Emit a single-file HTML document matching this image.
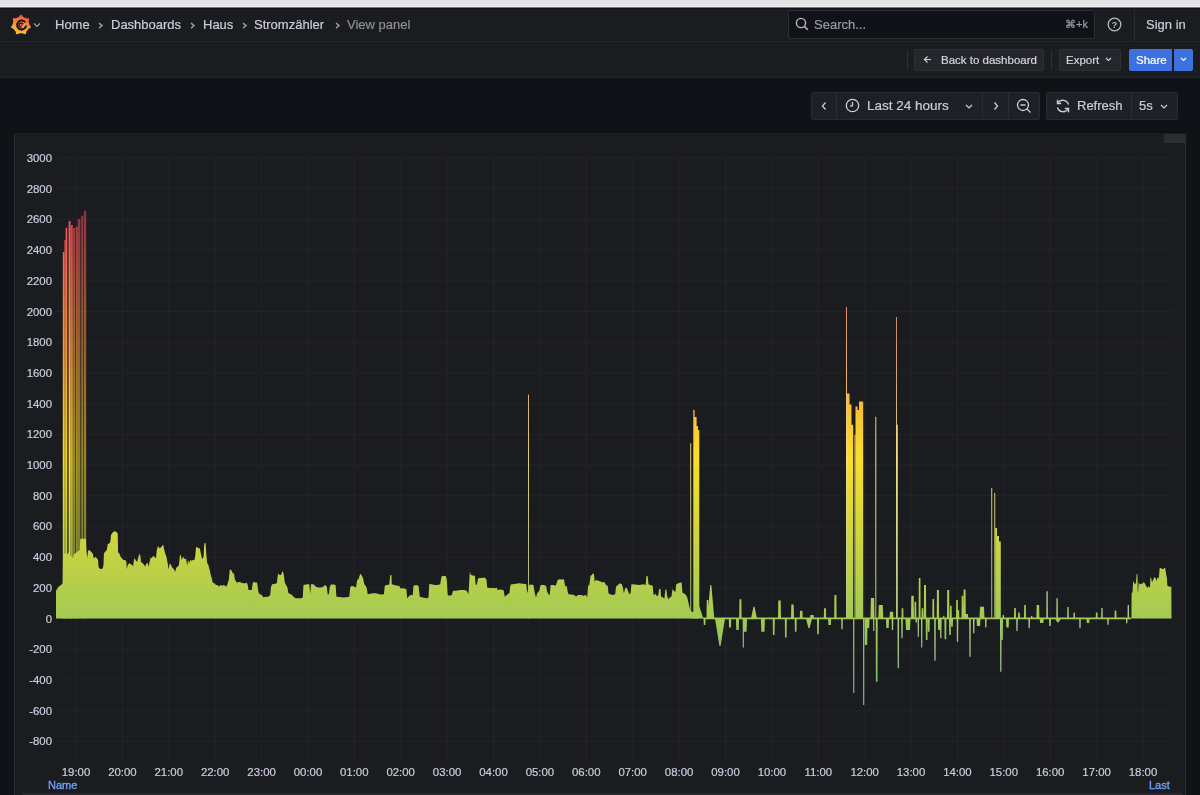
<!DOCTYPE html>
<html><head><meta charset="utf-8"><title>View panel</title>
<style>
*{box-sizing:border-box;margin:0;padding:0}
html,body{width:1200px;height:795px;overflow:hidden;background:#111217;font-family:"Liberation Sans",Arial,sans-serif;color:#ccccdc}
.abs{position:absolute}
#root div{-webkit-text-stroke:0.2px currentColor}
#strip{left:0;top:0;width:1200px;height:9px;background:linear-gradient(#dfdfdf 0,#e6e6e6 1px,#e6e6e6 6px,#f0f0f2 6px,#f0f0f2 7px,#77777a 7px,#77777a 8px,#121316 8px)}
#nav{left:0;top:9px;width:1200px;height:33px;background:#1b1c20;border-bottom:1px solid #25262a}
#tool{left:0;top:42px;width:1200px;height:36px;background:#1b1c20;border-bottom:1px solid #232428}
.crumb{font-size:13px;color:#ccccdc;top:17px;line-height:15px;white-space:nowrap;-webkit-text-stroke:0.25px currentColor}
.sep{color:#8e8e99}
.btn{background:#26272c;border:1px solid #2f3036;border-radius:2px;font-size:11.5px;color:#d4d4de;line-height:20px;white-space:nowrap}
.vsep{width:1px;background:#2e3036}
.tc{background:#1f2025;border:1px solid #2a2b31;border-radius:2px;height:28px;top:92px;font-size:13px;color:#ccccdc;line-height:26px;white-space:nowrap}
#panel{left:14px;top:133px;width:1172px;height:670px;background:#1b1c20;border:1px solid #2b2c31;border-top-color:#1b1c20;border-radius:2px}
.ax{font-family:"Liberation Sans",Arial,sans-serif;font-size:11.4px;fill:#ccccdc;stroke:#ccccdc;stroke-width:0.2px}
.leg{font-size:11px;color:#6e9fff;top:779px;line-height:12px;-webkit-text-stroke:0.35px #6e9fff !important}
</style></head>
<body>
<div id="root" style="position:absolute;left:0;top:0;width:1200px;height:795px;overflow:hidden;will-change:transform">
<div id="strip" class="abs"></div>
<div id="nav" class="abs"></div>
<div id="tool" class="abs"></div>

<!-- logo -->
<svg class="abs" style="left:8.5px;top:12.5px" width="24" height="24" viewBox="0 0 24 24">
  <defs><linearGradient id="lg" x1="0" y1="1" x2="0.3" y2="0"><stop offset="0" stop-color="#fbd33c"/><stop offset="0.45" stop-color="#f7a33a"/><stop offset="1" stop-color="#ef5b3a"/></linearGradient></defs>
  <path fill="url(#lg)" d="M20.60 12.00 L20.76 12.28 L21.03 12.57 L21.33 12.88 L21.61 13.21 L21.82 13.56 L21.95 13.90 L21.95 14.22 L21.84 14.53 L21.61 14.79 L21.29 15.02 L20.90 15.20 L20.49 15.36 L20.11 15.51 L19.80 15.67 L19.61 15.88 L19.41 16.07 L19.21 16.26 L19.02 16.45 L18.83 16.64 L18.65 16.83 L18.48 17.03 L18.32 17.23 L18.17 17.44 L18.02 17.66 L17.88 17.88 L17.74 18.11 L17.60 18.35 L17.45 18.59 L17.30 18.83 L17.22 19.18 L17.16 19.59 L17.09 20.03 L16.99 20.44 L16.83 20.79 L16.62 21.06 L16.34 21.22 L16.01 21.27 L15.65 21.22 L15.27 21.07 L14.88 20.86 L14.51 20.64 L14.17 20.46 L13.87 20.38 L13.59 20.35 L13.32 20.31 L13.05 20.28 L12.78 20.25 L12.52 20.22 L12.26 20.21 L12.00 20.20 L11.74 20.21 L11.48 20.22 L11.22 20.25 L10.95 20.28 L10.68 20.31 L10.41 20.35 L10.13 20.38 L9.83 20.46 L9.49 20.64 L9.12 20.86 L8.73 21.07 L8.35 21.22 L7.99 21.27 L7.66 21.22 L7.38 21.06 L7.17 20.79 L7.01 20.44 L6.91 20.03 L6.84 19.59 L6.78 19.18 L6.70 18.83 L6.55 18.59 L6.40 18.35 L6.26 18.11 L6.12 17.88 L5.98 17.66 L5.83 17.44 L5.68 17.23 L5.52 17.03 L5.35 16.83 L5.17 16.64 L4.98 16.45 L4.79 16.26 L4.59 16.07 L4.39 15.88 L4.20 15.67 L3.89 15.51 L3.51 15.36 L3.10 15.20 L2.71 15.02 L2.39 14.79 L2.16 14.53 L2.05 14.22 L2.05 13.90 L2.18 13.56 L2.39 13.21 L2.67 12.88 L2.97 12.57 L3.24 12.28 L3.40 12.00 L3.49 11.73 L3.59 11.47 L3.68 11.21 L3.77 10.96 L3.86 10.71 L3.93 10.46 L4.00 10.21 L4.05 9.96 L4.09 9.70 L4.13 9.44 L4.16 9.18 L4.18 8.91 L4.21 8.63 L4.24 8.35 L4.25 8.05 L4.15 7.68 L4.02 7.28 L3.90 6.86 L3.83 6.45 L3.84 6.07 L3.95 5.75 L4.16 5.51 L4.45 5.35 L4.83 5.26 L5.25 5.25 L5.68 5.27 L6.10 5.31 L6.47 5.32 L6.75 5.23 L7.02 5.14 L7.28 5.06 L7.54 4.97 L7.79 4.88 L8.04 4.79 L8.28 4.69 L8.51 4.58 L8.74 4.46 L8.96 4.33 L9.19 4.19 L9.42 4.04 L9.64 3.89 L9.88 3.74 L10.12 3.60 L10.35 3.36 L10.58 3.02 L10.82 2.66 L11.08 2.32 L11.37 2.04 L11.68 1.86 L12.00 1.80 L12.32 1.86 L12.63 2.04 L12.92 2.32 L13.18 2.66 L13.42 3.02 L13.65 3.36 L13.88 3.60 L14.12 3.74 L14.36 3.89 L14.58 4.04 L14.81 4.19 L15.04 4.33 L15.26 4.46 L15.49 4.58 L15.72 4.69 L15.96 4.79 L16.21 4.88 L16.46 4.97 L16.72 5.06 L16.98 5.14 L17.25 5.23 L17.53 5.32 L17.90 5.31 L18.32 5.27 L18.75 5.25 L19.17 5.26 L19.55 5.35 L19.84 5.51 L20.05 5.75 L20.16 6.07 L20.17 6.45 L20.10 6.86 L19.98 7.28 L19.85 7.68 L19.75 8.05 L19.76 8.35 L19.79 8.63 L19.82 8.91 L19.84 9.18 L19.87 9.44 L19.91 9.70 L19.95 9.96 L20.00 10.21 L20.07 10.46 L20.14 10.71 L20.23 10.96 L20.32 11.21 L20.41 11.47 L20.51 11.73Z"/>
  <circle cx="12.6" cy="12.2" r="3.6" fill="#f3966a"/>
  <path d="M16.2 9.3A4.5 4.5 0 1 0 17.1 12.6" fill="none" stroke="#241210" stroke-width="2.1"/>
  <path d="M14.2 11.4A2.1 2.1 0 1 0 12.6 14.3" fill="none" stroke="#2a1612" stroke-width="1.4"/>
  <circle cx="12.6" cy="12.3" r="0.9" fill="#3a2a25"/>
</svg>
<svg class="abs" style="left:33px;top:22px" width="8" height="6" viewBox="0 0 8 6"><path d="M1 1.5l3 3 3-3" fill="none" stroke="#9fa0aa" stroke-width="1.2"/></svg>

<div class="abs crumb" style="left:55px">Home</div>
<svg class="abs" style="left:97px;top:20px" width="7" height="10" viewBox="0 0 7 10"><path d="M2 3L5 5.6L2 8.2" fill="none" stroke="#9a9ba5" stroke-width="1.5"/></svg>
<div class="abs crumb" style="left:111px">Dashboards</div>
<svg class="abs" style="left:189px;top:20px" width="7" height="10" viewBox="0 0 7 10"><path d="M2 3L5 5.6L2 8.2" fill="none" stroke="#9a9ba5" stroke-width="1.5"/></svg>
<div class="abs crumb" style="left:203px">Haus</div>
<svg class="abs" style="left:241px;top:20px" width="7" height="10" viewBox="0 0 7 10"><path d="M2 3L5 5.6L2 8.2" fill="none" stroke="#9a9ba5" stroke-width="1.5"/></svg>
<div class="abs crumb" style="left:254px">Stromzähler</div>
<svg class="abs" style="left:334px;top:20px" width="7" height="10" viewBox="0 0 7 10"><path d="M2 3L5 5.6L2 8.2" fill="none" stroke="#9a9ba5" stroke-width="1.5"/></svg>
<div class="abs crumb" style="left:347px;color:#8e8e99">View panel</div>

<!-- search -->
<div class="abs" style="left:788px;top:10px;width:307px;height:29px;background:#111217;border:1px solid #2c2e34;border-radius:2px"></div>
<svg class="abs" style="left:795px;top:17px" width="14" height="14" viewBox="0 0 14 14"><circle cx="6" cy="6" r="4.6" fill="none" stroke="#b8b9c4" stroke-width="1.4"/><path d="M9.4 9.4l3.4 3.4" stroke="#b8b9c4" stroke-width="1.5"/></svg>
<div class="abs" style="left:814px;top:17px;font-size:13px;line-height:15px;color:#9a9ba6">Search...</div>
<div class="abs" style="left:1065px;top:18px;font-size:11px;line-height:13px;color:#9a9ba6">&#8984;+k</div>
<svg class="abs" style="left:1107px;top:17px" width="15" height="15" viewBox="0 0 15 15"><circle cx="7.5" cy="7.5" r="6.3" fill="none" stroke="#b8b9c4" stroke-width="1.3"/><text x="7.5" y="11" text-anchor="middle" font-size="9" font-weight="bold" fill="#b8b9c4" font-family="Liberation Sans">?</text></svg>
<div class="abs vsep" style="left:1134px;top:9px;height:32px;background:#292a2f"></div>
<div class="abs crumb" style="left:1146px;top:17px">Sign in</div>

<!-- toolbar -->
<div class="abs vsep" style="left:907px;top:50px;height:20px"></div>
<div class="abs btn" style="left:914px;top:49px;width:130px;height:22px;padding-left:26px">Back to dashboard</div>
<svg class="abs" style="left:923px;top:55px" width="9" height="9" viewBox="0 0 9 9"><path d="M8 4.5H1.5M4.5 1.5l-3 3 3 3" fill="none" stroke="#ccccdc" stroke-width="1.2"/></svg>
<div class="abs vsep" style="left:1051px;top:50px;height:20px"></div>
<div class="abs btn" style="left:1059px;top:49px;width:62px;height:22px;padding-left:6px">Export</div>
<svg class="abs" style="left:1105px;top:57px" width="7" height="5" viewBox="0 0 7 5"><path d="M1 1l2.5 2.5L6 1" fill="none" stroke="#ccccdc" stroke-width="1.2"/></svg>
<div class="abs btn" style="left:1129px;top:49px;width:43px;height:22px;background:#3e71e0;border-color:#3e71e0;color:#fff;padding-left:6px;border-radius:2px 0 0 2px">Share</div>
<div class="abs btn" style="left:1174px;top:49px;width:19px;height:22px;background:#3e71e0;border-color:#3e71e0;border-radius:0 2px 2px 0"></div>
<svg class="abs" style="left:1180px;top:57px" width="7" height="5" viewBox="0 0 7 5"><path d="M1 1l2.5 2.5L6 1" fill="none" stroke="#fff" stroke-width="1.2"/></svg>

<!-- time controls -->
<div class="abs tc" style="left:811px;width:229px"></div>
<div class="abs vsep" style="left:836px;top:92px;height:28px;background:#2b2c32"></div>
<div class="abs vsep" style="left:982px;top:92px;height:28px;background:#2b2c32"></div>
<div class="abs vsep" style="left:1008px;top:92px;height:28px;background:#2b2c32"></div>
<svg class="abs" style="left:820px;top:101px" width="8" height="10" viewBox="0 0 8 10"><path d="M5.5 1.5L2.5 5l3 3.5" fill="none" stroke="#ccccdc" stroke-width="1.3"/></svg>
<svg class="abs" style="left:845px;top:98px" width="15" height="15" viewBox="0 0 15 15"><circle cx="7.5" cy="7.5" r="6.2" fill="none" stroke="#ccccdc" stroke-width="1.3"/><path d="M7.5 4v3.8H5" fill="none" stroke="#ccccdc" stroke-width="1.3"/></svg>
<div class="abs" style="left:867px;top:98px;font-size:13.5px;line-height:15px;color:#ccccdc">Last 24 hours</div>
<svg class="abs" style="left:965px;top:104px" width="8" height="5" viewBox="0 0 8 5"><path d="M1 1l3 3 3-3" fill="none" stroke="#ccccdc" stroke-width="1.2"/></svg>
<svg class="abs" style="left:992px;top:101px" width="8" height="10" viewBox="0 0 8 10"><path d="M2.5 1.5L5.5 5l-3 3.5" fill="none" stroke="#ccccdc" stroke-width="1.3"/></svg>
<svg class="abs" style="left:1016px;top:98px" width="16" height="16" viewBox="0 0 16 16"><circle cx="7" cy="7" r="5.5" fill="none" stroke="#ccccdc" stroke-width="1.3"/><path d="M4.5 7h5M11 11l3.5 3.5" fill="none" stroke="#ccccdc" stroke-width="1.3"/></svg>

<div class="abs tc" style="left:1046px;width:132px"></div>
<div class="abs vsep" style="left:1131px;top:92px;height:28px;background:#2b2c32"></div>
<svg class="abs" style="left:1055px;top:98px" width="16" height="16" viewBox="0 0 16 16"><path d="M13.5 6.5A5.8 5.8 0 0 0 3 5M2.5 9.5A5.8 5.8 0 0 0 13 11" fill="none" stroke="#ccccdc" stroke-width="1.4"/><path d="M2.5 1.8V5.5H6.2M13.5 14.2V10.5H9.8" fill="none" stroke="#ccccdc" stroke-width="1.4"/></svg>
<div class="abs" style="left:1077px;top:98px;font-size:13px;line-height:15px;color:#ccccdc">Refresh</div>
<div class="abs" style="left:1139px;top:98px;font-size:13px;line-height:15px;color:#ccccdc">5s</div>
<svg class="abs" style="left:1160px;top:104px" width="8" height="5" viewBox="0 0 8 5"><path d="M1 1l3 3 3-3" fill="none" stroke="#ccccdc" stroke-width="1.2"/></svg>

<!-- panel -->
<div class="abs" style="left:14px;top:130px;width:1172px;height:3px;background:#0f1013"></div>
<div id="panel" class="abs"></div>
<div class="abs" style="left:1164px;top:134px;width:22px;height:9px;background:#2b2d33"></div>
<svg width="1200" height="795" viewBox="0 0 1200 795" style="position:absolute;left:0;top:0">
<defs><linearGradient id="g" gradientUnits="userSpaceOnUse" x1="0" y1="704.9" x2="0" y2="211.4"><stop offset="0" stop-color="#73BF69"/><stop offset="0.5" stop-color="#FADE2A"/><stop offset="1" stop-color="#F2495C"/></linearGradient><filter id="ds" x="0" y="0" width="1" height="1"><feColorMatrix type="saturate" values="0.7"/><feComponentTransfer><feFuncR type="linear" slope="1.03"/><feFuncG type="linear" slope="1.03"/><feFuncB type="linear" slope="1.03"/></feComponentTransfer></filter></defs>
<path d="M56.5 741.3H1172 M56.5 710.6H1172 M56.5 679.9H1172 M56.5 649.2H1172 M56.5 618.5H1172 M56.5 587.8H1172 M56.5 557.1H1172 M56.5 526.4H1172 M56.5 495.7H1172 M56.5 465.0H1172 M56.5 434.3H1172 M56.5 403.6H1172 M56.5 372.9H1172 M56.5 342.2H1172 M56.5 311.5H1172 M56.5 280.8H1172 M56.5 250.1H1172 M56.5 219.4H1172 M56.5 188.7H1172 M56.5 158.0H1172 M76.0 158V760 M122.4 158V760 M168.8 158V760 M215.2 158V760 M261.6 158V760 M308.0 158V760 M354.3 158V760 M400.7 158V760 M447.1 158V760 M493.5 158V760 M539.9 158V760 M586.3 158V760 M632.7 158V760 M679.1 158V760 M725.5 158V760 M771.9 158V760 M818.3 158V760 M864.7 158V760 M911.0 158V760 M957.4 158V760 M1003.8 158V760 M1050.2 158V760 M1096.6 158V760 M1143.0 158V760" stroke="#232428" stroke-width="1" fill="none"/>
<g filter="url(#ds)"><path d="M528.0 618.5V394.5H528.9V618.5Z M690.3 618.5V443.3H691.2V618.5Z M846.0 618.5V307.0H847.0V618.5Z M854.5 618.5V434.8H855.5V618.5Z M875.3 618.5V416.7H876.3V618.5Z M896.0 618.5V317.0H896.9V618.5Z M896.9 618.5V424.7H897.8V618.5Z M991.3 618.5V488.0H992.2V618.5Z M994.3 618.5V493.0H995.2V618.5Z M742.70 618.5L742.75 647.5H743.85L743.90 618.5Z M841.20 618.5L841.36 629.2H842.64L842.80 618.5Z M853.15 618.5L853.20 693.0H854.30L854.35 618.5Z M863.10 618.5L863.15 705.0H864.25L864.30 618.5Z M873.15 618.5L873.20 631.0H874.30L874.35 618.5Z M891.70 618.5L891.86 630.0H893.14L893.30 618.5Z M897.50 618.5L897.66 668.3H898.94L899.10 618.5Z M901.20 618.5L901.36 638.3H902.64L902.80 618.5Z M915.45 618.5L915.61 622.5H916.89L917.05 618.5Z M917.60 618.5L917.74 636.7H918.86L919.00 618.5Z M921.00 618.5L921.14 647.5H922.26L922.40 618.5Z M934.20 618.5L934.36 660.8H935.64L935.80 618.5Z M940.00 618.5L940.16 638.3H941.44L941.60 618.5Z M956.70 618.5L956.86 641.7H958.14L958.30 618.5Z M969.20 618.5L969.36 656.7H970.64L970.80 618.5Z M972.95 618.5L973.11 633.3H974.39L974.55 618.5Z M985.00 618.5L985.16 627.5H986.44L986.60 618.5Z M1000.00 618.5L1000.16 671.7H1001.44L1001.60 618.5Z M1016.20 618.5L1016.36 631.0H1017.64L1017.80 618.5Z M1028.40 618.5L1028.56 628.3H1029.84L1030.00 618.5Z M1079.20 618.5L1079.36 628.3H1080.64L1080.80 618.5Z M1107.20 618.5L1107.36 624.7H1108.64L1108.80 618.5Z M1125.90 618.5L1126.06 623.2H1127.34L1127.50 618.5Z M943.15 618.5L943.20 615.8H944.30L944.35 618.5Z M1002.50 618.5L1002.66 615.0H1003.94L1004.10 618.5Z M1030.90 618.5L1031.06 616.0H1032.34L1032.50 618.5Z M1046.30 618.5L1046.46 591.2H1047.74L1047.90 618.5Z M1056.30 618.5L1056.46 598.3H1057.74L1057.90 618.5Z M1067.20 618.5L1067.36 607.0H1068.64L1068.80 618.5Z M1073.40 618.5L1073.56 612.5H1074.84L1075.00 618.5Z M1101.20 618.5L1101.36 608.0H1102.64L1102.80 618.5Z M1127.50 618.5L1127.66 605.0H1128.94L1129.10 618.5Z" fill="url(#g)"/></g>
<path d="M56.0 618.5 L56.0 590.8 L58.5 586.7 L61.0 585.0 L62.7 583.3 L63.1 552.5 L67.2 554.2 L68.5 552.5 L72.7 558.3 L73.9 554.2 L76.4 552.5 L79.8 550.0 L80.2 538.8 L86.0 538.8 L86.4 550.0 L87.2 558.3 L88.1 550.8 L89.3 550.0 L91.0 551.7 L92.7 553.3 L93.5 557.5 L94.3 558.3 L95.2 556.7 L96.8 558.3 L98.1 560.0 L98.5 566.7 L99.3 568.3 L101.0 569.2 L102.7 568.3 L103.5 565.0 L103.9 553.3 L105.2 551.7 L106.8 550.0 L107.7 544.2 L109.3 543.3 L110.2 542.5 L111.0 535.0 L112.7 532.5 L114.3 531.2 L116.0 531.7 L117.7 533.3 L118.1 552.5 L119.3 553.3 L120.6 556.7 L121.8 558.3 L123.5 560.0 L125.2 560.0 L126.4 561.7 L126.8 569.2 L127.7 565.0 L129.3 563.3 L131.0 564.2 L132.2 565.0 L133.1 566.7 L133.9 560.0 L134.8 558.3 L136.0 560.8 L137.2 561.7 L138.1 558.3 L139.3 553.8 L140.2 555.0 L141.0 561.7 L142.7 563.3 L144.3 565.0 L145.2 566.7 L146.0 564.2 L147.7 562.5 L148.5 566.7 L149.3 563.3 L150.6 557.5 L151.8 558.3 L153.1 555.8 L154.3 556.7 L155.9 558.3 L156.0 557.5 L156.8 550.0 L158.1 545.8 L159.3 548.3 L161.0 547.5 L163.1 544.6 L164.3 550.0 L165.2 553.3 L166.4 556.7 L167.7 563.3 L168.5 569.2 L169.8 563.3 L171.0 565.0 L172.2 567.5 L173.9 569.2 L175.2 571.7 L176.4 567.5 L177.7 566.7 L178.9 565.0 L179.8 556.7 L180.6 554.2 L181.8 560.0 L183.1 556.7 L184.8 559.2 L186.0 558.3 L187.2 565.8 L188.1 560.0 L189.3 563.3 L190.2 560.0 L191.4 560.8 L193.1 560.0 L194.3 560.0 L195.2 556.7 L196.0 547.5 L197.2 547.1 L198.5 548.3 L199.8 548.3 L201.0 554.2 L202.2 559.2 L203.5 556.7 L204.3 543.3 L205.6 542.9 L206.4 555.0 L207.2 563.3 L208.1 564.2 L209.3 568.3 L210.6 574.2 L211.8 578.3 L212.7 582.5 L214.3 583.3 L216.0 585.0 L217.7 585.0 L218.9 586.7 L220.2 585.0 L221.8 585.8 L223.5 585.0 L225.2 585.8 L226.4 586.7 L227.7 583.3 L228.9 579.2 L229.8 569.2 L231.0 570.0 L232.2 571.7 L233.1 574.2 L233.9 572.5 L234.8 579.2 L235.6 580.8 L236.8 582.5 L238.1 582.5 L239.3 581.7 L241.0 582.5 L242.7 583.3 L244.3 583.3 L246.0 583.3 L246.8 582.5 L247.7 585.0 L248.5 590.0 L250.2 590.0 L251.8 590.0 L252.7 583.3 L253.5 581.7 L255.2 582.5 L255.9 582.5 L256.0 581.7 L257.2 583.3 L258.5 592.5 L259.8 594.2 L261.8 595.0 L263.5 597.5 L265.2 596.7 L268.5 596.7 L270.2 595.0 L271.0 586.7 L272.2 584.2 L275.2 583.8 L276.8 583.3 L278.1 573.3 L279.3 575.0 L281.0 575.0 L282.7 570.8 L283.9 575.0 L284.8 582.5 L286.0 585.0 L287.2 586.7 L288.5 593.3 L291.0 594.2 L292.7 595.8 L294.3 597.5 L296.0 598.3 L301.0 598.3 L302.7 597.5 L303.5 585.0 L306.0 584.6 L307.7 584.2 L309.3 584.2 L310.2 594.2 L311.0 584.2 L313.5 584.2 L316.0 586.7 L318.1 587.5 L321.0 587.5 L322.7 587.1 L325.2 585.0 L326.8 586.7 L327.7 594.2 L328.9 594.2 L329.8 586.7 L331.0 584.6 L333.5 584.6 L335.6 585.0 L336.4 596.7 L339.3 597.1 L343.5 597.5 L347.7 597.1 L349.3 596.7 L350.2 587.5 L351.8 585.8 L354.3 586.7 L355.9 587.5 L356.0 587.5 L357.2 580.0 L358.5 579.2 L359.8 575.0 L360.6 573.8 L361.8 575.8 L363.1 578.3 L364.3 584.2 L365.6 585.8 L366.8 588.3 L367.7 594.2 L370.2 593.8 L372.7 593.3 L376.0 593.3 L379.3 594.2 L381.8 594.6 L383.9 594.2 L384.8 585.8 L386.8 585.0 L389.3 584.6 L390.2 575.0 L391.4 575.0 L391.8 584.2 L394.3 585.0 L397.7 585.8 L399.3 585.8 L400.2 588.3 L402.7 588.3 L405.2 588.8 L406.4 589.2 L407.2 598.3 L409.3 595.8 L411.0 595.0 L412.7 595.0 L413.5 585.8 L416.0 585.0 L418.5 585.8 L419.8 596.7 L422.7 597.5 L426.8 598.3 L428.5 597.5 L429.3 583.8 L431.0 584.2 L435.2 585.0 L437.7 585.0 L440.2 584.2 L441.4 576.7 L442.7 575.8 L446.0 576.2 L446.8 580.0 L447.7 595.0 L449.3 595.8 L451.8 595.0 L453.1 590.8 L454.3 590.8 L455.9 590.8 L456.0 590.8 L460.2 590.0 L464.3 590.0 L466.8 590.8 L468.5 594.2 L469.8 571.7 L471.0 575.0 L472.7 575.4 L474.8 575.8 L475.6 584.2 L476.8 585.0 L478.1 578.3 L481.0 577.9 L484.3 577.5 L486.4 579.2 L487.2 587.5 L489.3 587.9 L493.5 587.9 L496.0 588.3 L496.8 587.5 L497.7 590.0 L500.2 589.6 L503.5 590.0 L504.8 596.7 L506.0 595.8 L507.7 594.2 L509.3 593.3 L510.6 584.6 L512.7 584.2 L516.0 583.8 L519.3 583.3 L522.7 583.8 L526.4 584.2 L527.2 593.3 L529.3 585.0 L531.0 584.6 L533.5 585.0 L534.8 593.3 L536.0 597.5 L537.2 593.3 L539.3 590.8 L540.6 585.0 L543.5 585.0 L546.0 585.8 L547.2 591.7 L548.5 594.2 L549.8 595.0 L550.6 585.0 L553.5 585.0 L555.9 585.8 L556.0 585.0 L557.7 580.0 L559.3 579.2 L561.8 579.6 L563.9 579.2 L564.8 584.2 L565.6 586.7 L566.8 585.8 L567.7 591.7 L568.5 594.2 L571.0 594.6 L574.3 595.0 L576.0 596.7 L577.7 595.0 L581.0 595.0 L583.5 595.8 L586.0 595.0 L587.2 597.5 L588.1 585.8 L589.3 585.0 L590.6 575.8 L591.8 575.0 L593.1 572.9 L593.9 574.2 L594.8 581.7 L596.0 580.0 L598.5 580.8 L601.0 581.7 L603.1 582.5 L604.3 581.7 L606.0 585.0 L607.7 585.8 L608.5 593.3 L610.2 594.2 L612.7 595.0 L615.2 594.2 L616.0 586.7 L617.7 585.0 L620.2 583.3 L621.8 584.2 L622.7 586.7 L623.9 593.3 L625.2 588.3 L626.4 587.5 L627.7 590.0 L629.3 594.2 L630.6 593.3 L631.4 584.2 L635.2 584.6 L639.3 585.0 L643.5 584.2 L645.6 585.0 L646.4 575.8 L647.7 576.2 L648.5 584.2 L650.2 585.0 L652.7 585.8 L653.5 594.2 L654.8 595.0 L655.9 593.3 L656.3 595.7 L658.2 595.7 L659.1 589.0 L660.6 589.0 L661.0 596.6 L662.9 597.6 L664.4 598.5 L665.3 589.9 L666.3 589.0 L667.2 596.6 L668.7 599.5 L669.6 597.6 L671.5 596.6 L672.5 589.0 L673.9 590.9 L675.4 591.8 L676.3 584.2 L678.2 583.2 L680.2 582.8 L681.6 582.3 L682.5 592.8 L684.5 593.8 L685.9 594.7 L687.3 597.6 L688.8 604.3 L690.2 610.0 L692.1 611.9 L693.1 611.9 L699.3 606.2 L701.2 611.9 L703.1 617.7 L704.5 618.5 L704.5 618.5Z M1131.4 618.5 L1131.4 618.4 L1131.6 593.4 L1132.6 591.8 L1133.1 581.3 L1133.9 582.2 L1134.7 584.6 L1135.9 583.0 L1136.7 574.1 L1137.5 574.1 L1137.7 591.8 L1138.1 591.8 L1138.7 582.2 L1139.9 584.6 L1141.1 583.8 L1142.3 583.8 L1143.5 582.2 L1144.7 583.0 L1145.9 585.4 L1146.7 587.0 L1147.5 587.8 L1148.3 586.2 L1149.2 587.0 L1150.0 587.8 L1150.4 577.3 L1151.2 578.1 L1152.0 582.2 L1153.2 579.7 L1154.4 576.9 L1155.6 578.1 L1156.4 581.3 L1157.2 578.1 L1158.0 577.3 L1158.8 578.9 L1159.6 568.5 L1160.8 567.7 L1162.0 568.9 L1163.2 569.3 L1164.5 567.7 L1165.3 568.5 L1166.1 574.1 L1166.9 578.1 L1167.3 585.4 L1168.5 586.2 L1170.1 587.0 L1171.3 586.2 L1171.5 618.4 L1171.5 618.5Z M698.50 618.5L698.80 613.3H701.20L701.50 618.5Z M706.50 618.5L706.70 600.0H708.30L708.50 618.5Z M707.30 618.5L710.25 585.0H711.35L714.30 618.5Z M739.20 618.5L739.44 599.2H741.36L741.60 618.5Z M751.00 618.5L753.45 606.7H754.55L757.00 618.5Z M778.00 618.5L778.30 600.4H780.70L781.00 618.5Z M791.00 618.5L791.30 604.4H793.70L794.00 618.5Z M799.75 618.5L800.05 610.8H802.45L802.75 618.5Z M810.00 618.5L810.40 615.0H813.60L814.00 618.5Z M823.80 618.5L824.04 608.3H825.96L826.20 618.5Z M834.20 618.5L834.44 595.0H836.36L836.60 618.5Z M870.50 618.5L870.90 598.0H874.10L874.50 618.5Z M878.30 618.5L878.80 605.0H882.80L883.30 618.5Z M889.50 618.5L889.90 611.7H893.10L893.50 618.5Z M901.50 618.5L901.70 608.3H903.30L903.50 618.5Z M911.00 618.5L911.30 595.8H913.70L914.00 618.5Z M914.40 618.5L914.60 601.7H916.20L916.40 618.5Z M918.60 618.5L918.80 578.0H920.40L920.60 618.5Z M921.50 618.5L921.70 608.3H923.30L923.50 618.5Z M923.80 618.5L924.04 585.0H925.96L926.20 618.5Z M932.30 618.5L932.50 599.0H934.10L934.30 618.5Z M936.70 618.5L936.94 590.0H938.86L939.10 618.5Z M947.00 618.5L947.24 590.0H949.16L949.40 618.5Z M949.80 618.5L950.00 605.8H951.60L951.80 618.5Z M956.00 618.5L956.20 600.0H957.80L958.00 618.5Z M957.30 618.5L957.50 610.0H959.10L959.30 618.5Z M961.50 618.5L961.70 595.8H963.30L963.50 618.5Z M963.40 618.5L963.64 589.6H965.56L965.80 618.5Z M965.20 618.5L965.50 614.0H967.90L968.20 618.5Z M979.50 618.5L980.00 606.7H984.00L984.50 618.5Z M1014.00 618.5L1014.20 608.0H1015.80L1016.00 618.5Z M1018.00 618.5L1018.20 612.5H1019.80L1020.00 618.5Z M1024.00 618.5L1024.20 605.0H1025.80L1026.00 618.5Z M1036.40 618.5L1036.70 605.0H1039.10L1039.40 618.5Z M1095.70 618.5L1095.90 612.5H1097.50L1097.70 618.5Z M1114.50 618.5L1114.70 610.5H1116.30L1116.50 618.5Z M703 617.6H1131V619.3H703Z" fill="url(#g)"/>
<path d="M703.60 618.5L703.80 625.0H705.40L705.60 618.5Z M715.00 618.5L719.45 646.0H720.55L725.00 618.5Z M728.80 618.5L729.04 627.5H730.96L731.20 618.5Z M736.00 618.5L736.30 630.0H738.70L739.00 618.5Z M743.00 618.5L743.40 631.7H746.60L747.00 618.5Z M760.90 618.5L761.30 631.7H764.50L764.90 618.5Z M772.75 618.5L772.95 635.0H774.55L774.75 618.5Z M784.80 618.5L785.00 637.5H786.60L786.80 618.5Z M794.70 618.5L794.90 631.7H796.50L796.70 618.5Z M806.00 618.5L808.45 628.3H809.55L812.00 618.5Z M817.00 618.5L817.20 634.2H818.80L819.00 618.5Z M828.10 618.5L828.40 625.0H830.80L831.10 618.5Z M864.50 618.5L864.80 645.0H867.20L867.50 618.5Z M866.50 618.5L866.80 628.0H869.20L869.50 618.5Z M875.70 618.5L875.90 681.7H877.50L877.70 618.5Z M886.00 618.5L886.30 628.0H888.70L889.00 618.5Z M905.50 618.5L906.00 630.0H910.00L910.50 618.5Z M925.70 618.5L925.90 640.0H927.50L927.70 618.5Z M927.75 618.5L927.95 631.7H929.55L929.75 618.5Z M937.80 618.5L938.04 630.0H939.96L940.20 618.5Z M944.40 618.5L944.60 639.2H946.20L946.40 618.5Z M949.00 618.5L949.20 635.0H950.80L951.00 618.5Z M951.00 618.5L951.20 626.7H952.80L953.00 618.5Z M976.50 618.5L976.90 626.0H980.10L980.50 618.5Z M1001.00 618.5L1001.20 640.0H1002.80L1003.00 618.5Z M1006.00 618.5L1006.30 627.5H1008.70L1009.00 618.5Z M1039.70 618.5L1040.10 623.0H1043.30L1043.70 618.5Z M1049.00 618.5L1049.20 626.0H1050.80L1051.00 618.5Z M1055.00 618.5L1057.45 622.5H1058.55L1061.00 618.5Z M1086.50 618.5L1086.80 623.0H1089.20L1089.50 618.5Z" fill="url(#g)"/>
<path d="M693.3 618.5V410.0H694.6V618.5Z M694.6 618.5V417.0H696.6V618.5Z M696.6 618.5V426.0H698.0V618.5Z M698.0 618.5V430.0H699.3V618.5Z M847.0 618.5V393.6H849.5V618.5Z M849.5 618.5V404.6H851.5V618.5Z M851.5 618.5V424.7H853.2V618.5Z M855.5 618.5V406.6H857.5V618.5Z M857.5 618.5V410.0H859.0V618.5Z M859.0 618.5V401.6H863.2V618.5Z M995.2 618.5V528.0H997.0V618.5Z M997.0 618.5V536.0H999.0V618.5Z M999.0 618.5V541.5H1000.8V618.5Z  " fill="url(#g)"/>
<path d="M62.80 618.5V252.0H64.50V618.5Z" fill="url(#g)" fill-opacity="1.0"/>
<path d="M64.50 618.5V240.0H65.60V618.5Z" fill="url(#g)" fill-opacity="1.0"/>
<path d="M65.60 618.5V228.0H67.10V618.5Z" fill="url(#g)" fill-opacity="1.0"/>
<path d="M67.10 618.5V226.0H68.70V618.5Z" fill="url(#g)" fill-opacity="0.22"/>
<path d="M68.70 618.5V221.0H70.60V618.5Z" fill="url(#g)" fill-opacity="1.0"/>
<path d="M70.60 618.5V225.0H72.80V618.5Z" fill="url(#g)" fill-opacity="0.78"/>
<path d="M72.80 618.5V228.0H74.10V618.5Z" fill="url(#g)" fill-opacity="0.5"/>
<path d="M74.10 618.5V228.0H75.10V618.5Z" fill="url(#g)" fill-opacity="0.66"/>
<path d="M75.10 618.5V227.0H76.00V618.5Z" fill="url(#g)" fill-opacity="0.15"/>
<path d="M76.00 618.5V226.5H77.80V618.5Z" fill="url(#g)" fill-opacity="0.62"/>
<path d="M77.80 618.5V219.0H80.20V618.5Z" fill="url(#g)" fill-opacity="0.55"/>
<path d="M80.20 618.5V218.0H81.30V618.5Z" fill="url(#g)" fill-opacity="0.15"/>
<path d="M81.30 618.5V216.0H83.20V618.5Z" fill="url(#g)" fill-opacity="0.55"/>
<path d="M83.20 618.5V214.0H84.00V618.5Z" fill="url(#g)" fill-opacity="0.15"/>
<path d="M84.00 618.5V210.8H86.20V618.5Z" fill="url(#g)" fill-opacity="0.55"/>
<text x="52" y="745.3" text-anchor="end" class="ax">-800</text>
<text x="52" y="714.6" text-anchor="end" class="ax">-600</text>
<text x="52" y="683.9" text-anchor="end" class="ax">-400</text>
<text x="52" y="653.2" text-anchor="end" class="ax">-200</text>
<text x="52" y="622.5" text-anchor="end" class="ax">0</text>
<text x="52" y="591.8" text-anchor="end" class="ax">200</text>
<text x="52" y="561.1" text-anchor="end" class="ax">400</text>
<text x="52" y="530.4" text-anchor="end" class="ax">600</text>
<text x="52" y="499.7" text-anchor="end" class="ax">800</text>
<text x="52" y="469.0" text-anchor="end" class="ax">1000</text>
<text x="52" y="438.3" text-anchor="end" class="ax">1200</text>
<text x="52" y="407.6" text-anchor="end" class="ax">1400</text>
<text x="52" y="376.9" text-anchor="end" class="ax">1600</text>
<text x="52" y="346.2" text-anchor="end" class="ax">1800</text>
<text x="52" y="315.5" text-anchor="end" class="ax">2000</text>
<text x="52" y="284.8" text-anchor="end" class="ax">2200</text>
<text x="52" y="254.1" text-anchor="end" class="ax">2400</text>
<text x="52" y="223.4" text-anchor="end" class="ax">2600</text>
<text x="52" y="192.7" text-anchor="end" class="ax">2800</text>
<text x="52" y="162.0" text-anchor="end" class="ax">3000</text>
<text x="76.0" y="776" text-anchor="middle" class="ax">19:00</text>
<text x="122.4" y="776" text-anchor="middle" class="ax">20:00</text>
<text x="168.8" y="776" text-anchor="middle" class="ax">21:00</text>
<text x="215.2" y="776" text-anchor="middle" class="ax">22:00</text>
<text x="261.6" y="776" text-anchor="middle" class="ax">23:00</text>
<text x="308.0" y="776" text-anchor="middle" class="ax">00:00</text>
<text x="354.3" y="776" text-anchor="middle" class="ax">01:00</text>
<text x="400.7" y="776" text-anchor="middle" class="ax">02:00</text>
<text x="447.1" y="776" text-anchor="middle" class="ax">03:00</text>
<text x="493.5" y="776" text-anchor="middle" class="ax">04:00</text>
<text x="539.9" y="776" text-anchor="middle" class="ax">05:00</text>
<text x="586.3" y="776" text-anchor="middle" class="ax">06:00</text>
<text x="632.7" y="776" text-anchor="middle" class="ax">07:00</text>
<text x="679.1" y="776" text-anchor="middle" class="ax">08:00</text>
<text x="725.5" y="776" text-anchor="middle" class="ax">09:00</text>
<text x="771.9" y="776" text-anchor="middle" class="ax">10:00</text>
<text x="818.3" y="776" text-anchor="middle" class="ax">11:00</text>
<text x="864.7" y="776" text-anchor="middle" class="ax">12:00</text>
<text x="911.0" y="776" text-anchor="middle" class="ax">13:00</text>
<text x="957.4" y="776" text-anchor="middle" class="ax">14:00</text>
<text x="1003.8" y="776" text-anchor="middle" class="ax">15:00</text>
<text x="1050.2" y="776" text-anchor="middle" class="ax">16:00</text>
<text x="1096.6" y="776" text-anchor="middle" class="ax">17:00</text>
<text x="1143.0" y="776" text-anchor="middle" class="ax">18:00</text>
</svg>
<div class="abs leg" style="left:48px">Name</div>
<div class="abs leg" style="left:1149px">Last</div>
<div class="abs" style="left:22px;top:793px;width:1160px;height:2px;background:#26272c"></div>
</div>
</body></html>
